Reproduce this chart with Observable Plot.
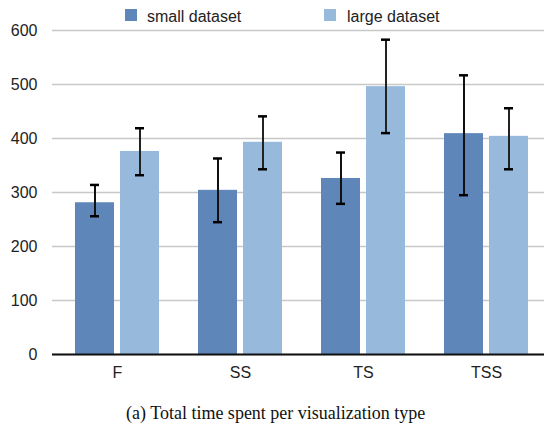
<!DOCTYPE html>
<html>
<head>
<meta charset="utf-8">
<script src="https://cdn.jsdelivr.net/npm/d3@7"></script>
<script src="https://cdn.jsdelivr.net/npm/@observablehq/plot@0.6"></script>
<style>
  html, body { margin: 0; padding: 0; background: #fff; }
  #wrap { position: relative; width: 544px; height: 424px; overflow: hidden; font-family: "Liberation Sans", Arial, Helvetica, sans-serif; background: #fff; }
  #chart { position: absolute; left: 0; top: 20px; z-index: 1; }
  .sw { position: absolute; width: 12px; height: 12px; top: 9px; z-index: 2; }
  .lt { position: absolute; top: 8px; font-size: 16px; line-height: 18px; color: #222; white-space: nowrap; z-index: 2; }
  #caption { position: absolute; left: 126px; top: 402px; font-family: "Liberation Serif", "Times New Roman", serif; font-size: 18px; line-height: 22px; color: #111; white-space: nowrap; }
</style>
</head>
<body>
<div id="wrap">
  <div class="sw" style="left:125px;background:#5E86B9"></div>
  <div class="lt" style="left:147px">small dataset</div>
  <div class="sw" style="left:324px;background:#96B9DC"></div>
  <div class="lt" style="left:347px">large dataset</div>
  <div id="chart"></div>
  <div id="caption">(a) Total time spent per visualization type</div>
</div>
<script>
const categories = ["F", "SS", "TS", "TSS"];
const smallMean = [281, 304, 326, 409];
const smallLow  = [256, 245, 279, 295];
const smallHigh = [314, 363, 374, 517];
const largeMean = [376, 393, 496, 404];
const largeLow  = [332, 343, 410, 343];
const largeHigh = [419, 441, 583, 456];
const yTicks = [0, 100, 200, 300, 400, 500, 600];

const data = categories.map((c, i) => ({
  cat: c,
  small: smallMean[i], smallLow: smallLow[i], smallHigh: smallHigh[i],
  large: largeMean[i], largeLow: largeLow[i], largeHigh: largeHigh[i]
}));

const darkBlue = "#5E86B9";
const lightBlue = "#96B9DC";

const chart = Plot.plot({
  width: 544,
  height: 370,
  marginLeft: 52,
  marginRight: 0,
  marginTop: 10,
  marginBottom: 36,
  style: { fontFamily: "'Liberation Sans', Arial, Helvetica, sans-serif", fontSize: "16px", color: "#222", background: "transparent", overflow: "visible" },
  x: { type: "band", domain: categories, range: [54.2, 549.4], paddingInner: 0.32, paddingOuter: 0.16, axis: null },
  y: { domain: [0, 600], axis: null },
  marks: [
    Plot.gridY(yTicks, { stroke: "#c8c8c8", strokeOpacity: 1, strokeWidth: 1.5 }),
    Plot.axisY(yTicks, { tickSize: 0, tickPadding: 15, fontSize: 16, fill: "#222", label: null }),
    Plot.barY(data, { x: "cat", y: "small", fill: darkBlue, insetRight: 45 }),
    Plot.barY(data, { x: "cat", y: "large", fill: lightBlue, insetLeft: 45 }),
    Plot.ruleX(data, { x: "cat", y1: "smallLow", y2: "smallHigh", dx: -22.5, stroke: "#111", strokeWidth: 2 }),
    Plot.ruleX(data, { x: "cat", y1: "largeLow", y2: "largeHigh", dx: 22.5, stroke: "#222", strokeWidth: 2 }),
    Plot.tickY(data, { x: "cat", y: "smallHigh", stroke: "#000", strokeWidth: 2.5, insetLeft: 15, insetRight: 60 }),
    Plot.tickY(data, { x: "cat", y: "smallLow", stroke: "#000", strokeWidth: 2.5, insetLeft: 15, insetRight: 60 }),
    Plot.tickY(data, { x: "cat", y: "largeHigh", stroke: "#000", strokeWidth: 2.5, insetLeft: 60, insetRight: 15 }),
    Plot.tickY(data, { x: "cat", y: "largeLow", stroke: "#000", strokeWidth: 2.5, insetLeft: 60, insetRight: 15 }),
    Plot.ruleY([0], { stroke: "#111", strokeWidth: 2 }),
    Plot.axisX({ tickSize: 0, tickPadding: 12, fontSize: 16, fill: "#222", label: null })
  ]
});
document.getElementById("chart").appendChild(chart);
</script>
</body>
</html>
